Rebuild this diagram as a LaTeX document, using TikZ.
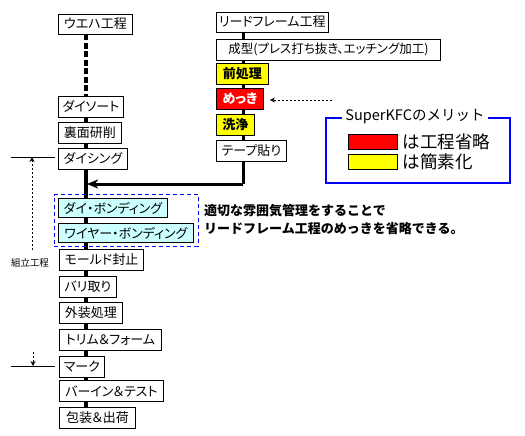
\documentclass[tikz,border=0pt]{standalone}
\usepackage{fontspec}
\usepackage{tikz}
\usetikzlibrary{arrows.meta,positioning,calc,fit,backgrounds}
\newfontfamily\jpfont{Noto Sans CJK JP}
\newfontfamily\jppfont[RawFeature=+palt]{Noto Sans CJK JP}
\definecolor{cutred}{HTML}{FF0000}
\definecolor{easyyel}{HTML}{FFFF00}
\definecolor{bondcyan}{HTML}{CCFFFF}
\definecolor{meritblue}{HTML}{0000FF}

\begin{document}
\begin{tikzpicture}[x=1pt, y=-1pt, font=\jpfont]

% pixel grid of the reference (y grows downward)
\tikzset{
  stepbox/.style={draw=black, line width=0.9pt, fill=white, anchor=west,
                  minimum height=21pt, inner xsep=2.5pt, inner ysep=0pt,
                  font=\jppfont\fontsize{13}{15}\selectfont, text=black},
  cutbox/.style={stepbox, fill=cutred, text=white, font=\jppfont\bfseries\fontsize{13}{15}\selectfont},
  easybox/.style={stepbox, fill=easyyel, font=\jppfont\bfseries\fontsize{13}{15}\selectfont},
  bondbox/.style={stepbox, fill=bondcyan, minimum height=19pt},
  mainline/.style={line width=3.6pt, draw=black},
  waferline/.style={line width=3.6pt, draw=black, dash pattern=on 6pt off 2.5pt},
  leadline/.style={line width=3pt, draw=black},
  joinflow/.style={leadline, -{Stealth[length=11pt, width=9pt, inset=3pt]}},
  dotflow/.style={-{Stealth[length=5pt, width=5pt]}, line width=0.8pt, dash pattern=on 2pt off 2pt},
  rulemark/.style={line width=1pt, draw=black},
  swatch/.style={draw=black, line width=0.6pt, minimum width=49pt, minimum height=15pt, inner sep=0pt},
  meritfont/.style={font=\jpfont\fontsize{17.5}{19}\selectfont, anchor=west, inner xsep=2pt}}

\useasboundingbox (0,0) rectangle (525,436);

% wafer side (left column)
\node[stepbox, minimum width=74pt, minimum height=20pt] (wafer) at (58,24) {ウエハ工程};
\node[stepbox, minimum width=65pt] (sort)  at (58,106.5) {ダイソート};
\node[stepbox, minimum width=63pt] (grind) at (58,132.5) {裏面研削};
\node[stepbox, minimum width=69pt] (dice)  at (58,158.5) {ダイシング};

% bonding steps in the dashed frame
\node[bondbox, minimum width=109pt] (diebond)  at (58,208) {ダイ・ボンディング};
\node[bondbox, minimum width=135pt] (wirebond) at (58,233) {ワイヤー・ボンディング};
\node[draw=meritblue, line width=0.8pt, dash pattern=on 4pt off 3pt, inner xsep=4pt, inner ysep=3.5pt,
      fit=(diebond)(wirebond)] (bondfrm) {};

% package steps
\node[stepbox, minimum width=84pt]  (mold)   at (59,259.5) {モールド封止};
\node[stepbox, minimum width=57pt]  (deburr) at (59,286.5) {バリ取り};
\node[stepbox, minimum width=63pt]  (finish) at (59,313)   {外装処理};
\node[stepbox, minimum width=102pt] (trim)   at (59,339.5) {トリム＆フォーム};
\node[stepbox, minimum width=45pt]  (mark)   at (59,366.5) {マーク};
\node[stepbox, minimum width=104pt] (burnin) at (59,391)   {バーイン＆テスト};
\node[stepbox, minimum width=76pt]  (pack)   at (59,418)   {包装＆出荷};

% lead frame side (right column)
\node[stepbox, minimum width=111pt, minimum height=20pt] (lf) at (216,22) {リードフレーム工程};
\node[stepbox, minimum width=224pt, font=\jppfont\fontsize{12.5}{15}\selectfont] (form) at (216,49.5)
  {成型(プレス打ち抜き、エッチング加工)};
\node[easybox, minimum width=52pt]  (pre)   at (216,73.5)  {前処理};
\node[cutbox,  minimum width=47pt]  (plate) at (216,98.5)  {めっき};
\node[easybox, minimum width=38pt]  (clean) at (216,124.5) {洗浄};
\node[stepbox, minimum width=70pt]  (tape)  at (216,150.5) {テープ貼り};

% flow lines behind the boxes
\coordinate (lx) at (86,0);
\coordinate (rx) at (243,0);
\coordinate (rbend) at (243,184);
\coordinate (ljoin) at (87,184);
\begin{scope}[on background layer]
  \draw[waferline] (wafer.south -| lx) -- (sort.north -| lx);
  \draw[mainline]  (sort.north -| lx) -- (pack.north -| lx);
  \draw[leadline]  (lf.south -| rx) -- (tape.south -| rx) -- (rbend);
\end{scope}
\draw[joinflow] (rbend) -- (ljoin);

% plating is dropped
\coordinate (dotfrom) at (332,100);
\draw[dotflow, shorten >=6pt] (dotfrom) -- (plate.east |- dotfrom);

% merit legend
\node[draw=meritblue, line width=1.5pt, minimum width=184pt, minimum height=65pt] (merit) at (418,150.5) {};
\node[fill=white, inner xsep=3pt, inner ysep=1pt, font=\jpfont\fontsize{14.5}{16}\selectfont] (merittl) at (415,117) {SuperKFCのメリット};
\node[swatch, fill=cutred]  (cutsw)  at (372.5,141.5) {};
\node[swatch, fill=easyyel] (easysw) at (372.5,161.5) {};
\node[meritfont] (cuttx)  at ([xshift=3pt]cutsw.east)  {は工程省略};
\node[meritfont] (easytx) at ([xshift=3pt]easysw.east) {は簡素化};

% note beside the bonding frame
\node[anchor=north west, align=left, inner sep=0pt, font=\jpfont\bfseries\fontsize{13}{18}\selectfont] (note)
  at (204,204) {適切な雰囲気管理をすることで\\リードフレーム工程のめっきを省略できる。};

% assembly range marks (left margin)
\coordinate (topl) at (11,157);  \coordinate (topr) at (55,157);
\coordinate (botl) at (11,366);  \coordinate (botr) at (55,366);
\draw[rulemark] (topl) -- (topr);
\draw[rulemark] (botl) -- (botr);
\node[font=\jpfont\fontsize{9.5}{11}\selectfont, inner sep=0pt] (asm) at (30,263) {組立工程};
\coordinate (upfrom) at (32,250);   \coordinate (uptip) at (32,157);
\coordinate (dnfrom) at (33,352);   \coordinate (dntip) at (33,366);
\draw[dotflow] (upfrom) -- (uptip);
\draw[dotflow] (dnfrom) -- (dntip);

\end{tikzpicture}
\end{document}
